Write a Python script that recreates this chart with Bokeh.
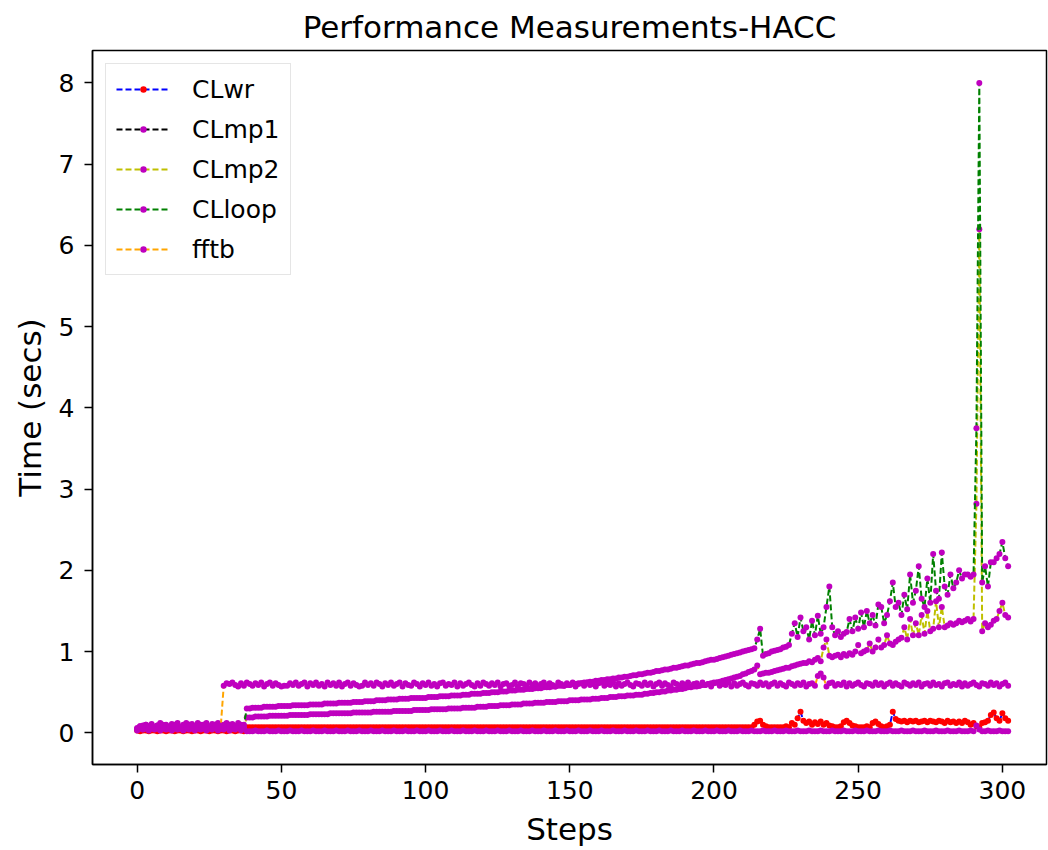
from bokeh.plotting import figure
from bokeh.models import Range1d, Legend, LegendItem, FixedTicker
from bokeh.embed import file_html
from bokeh.resources import INLINE

steps = list(range(303))

series_names = ["CLwr", "CLmp1", "CLmp2", "CLloop", "fftb"]
title_text = "Performance Measurements-HACC"

clwr = [
    0.03, 0.02, 0.03, 0.03, 0.02, 0.03, 0.03, 0.02, 0.03, 0.03,
    0.02, 0.03, 0.03, 0.02, 0.03, 0.03, 0.02, 0.03, 0.03, 0.02,
    0.03, 0.03, 0.02, 0.03, 0.03, 0.02, 0.03, 0.03, 0.02, 0.03,
    0.03, 0.02, 0.03, 0.03, 0.02, 0.03, 0.03, 0.02, 0.07, 0.07,
    0.07, 0.07, 0.07, 0.07, 0.07, 0.07, 0.07, 0.07, 0.07, 0.07,
    0.07, 0.07, 0.07, 0.07, 0.07, 0.07, 0.07, 0.07, 0.07, 0.07,
    0.07, 0.07, 0.07, 0.07, 0.07, 0.07, 0.07, 0.07, 0.07, 0.07,
    0.07, 0.07, 0.07, 0.07, 0.07, 0.07, 0.07, 0.07, 0.07, 0.07,
    0.07, 0.07, 0.07, 0.07, 0.07, 0.07, 0.07, 0.07, 0.07, 0.07,
    0.07, 0.07, 0.07, 0.07, 0.07, 0.07, 0.07, 0.07, 0.07, 0.07,
    0.07, 0.07, 0.07, 0.07, 0.07, 0.07, 0.07, 0.07, 0.07, 0.07,
    0.07, 0.07, 0.07, 0.07, 0.07, 0.07, 0.07, 0.07, 0.07, 0.07,
    0.07, 0.07, 0.07, 0.07, 0.07, 0.07, 0.07, 0.07, 0.07, 0.07,
    0.07, 0.07, 0.07, 0.07, 0.07, 0.07, 0.07, 0.07, 0.07, 0.07,
    0.07, 0.07, 0.07, 0.07, 0.07, 0.07, 0.07, 0.07, 0.07, 0.07,
    0.07, 0.07, 0.07, 0.07, 0.07, 0.07, 0.07, 0.07, 0.07, 0.07,
    0.07, 0.07, 0.07, 0.07, 0.07, 0.07, 0.07, 0.07, 0.07, 0.07,
    0.07, 0.07, 0.07, 0.07, 0.07, 0.07, 0.07, 0.07, 0.07, 0.07,
    0.07, 0.07, 0.07, 0.07, 0.07, 0.07, 0.07, 0.07, 0.07, 0.07,
    0.07, 0.07, 0.07, 0.07, 0.07, 0.07, 0.07, 0.07, 0.07, 0.07,
    0.07, 0.07, 0.07, 0.07, 0.07, 0.07, 0.07, 0.07, 0.07, 0.07,
    0.07, 0.07, 0.07, 0.07, 0.10, 0.14, 0.15, 0.10, 0.08, 0.07,
    0.07, 0.07, 0.07, 0.07, 0.07, 0.08, 0.07, 0.12, 0.10, 0.18,
    0.26, 0.15, 0.12, 0.14, 0.10, 0.13, 0.11, 0.14, 0.10, 0.12,
    0.09, 0.08, 0.07, 0.07, 0.08, 0.13, 0.15, 0.12, 0.09, 0.08,
    0.07, 0.07, 0.07, 0.08, 0.07, 0.12, 0.14, 0.11, 0.08, 0.07,
    0.08, 0.10, 0.26, 0.17, 0.15, 0.14, 0.15, 0.13, 0.15, 0.14,
    0.15, 0.13, 0.14, 0.15, 0.13, 0.15, 0.14, 0.13, 0.15, 0.14,
    0.12, 0.15, 0.13, 0.14, 0.12, 0.14, 0.12, 0.15, 0.13, 0.10,
    0.12, 0.08, 0.07, 0.12, 0.13, 0.15, 0.22, 0.25, 0.18, 0.15,
    0.24, 0.18, 0.15,
]

clmp1 = [
    0.03, 0.05, 0.04, 0.06, 0.03, 0.05, 0.04, 0.06, 0.03, 0.05,
    0.04, 0.06, 0.03, 0.05, 0.04, 0.06, 0.03, 0.05, 0.04, 0.06,
    0.03, 0.05, 0.04, 0.06, 0.03, 0.05, 0.04, 0.06, 0.03, 0.05,
    0.04, 0.06, 0.03, 0.05, 0.04, 0.06, 0.03, 0.05, 0.02, 0.02,
    0.02, 0.03, 0.02, 0.02, 0.02, 0.03, 0.02, 0.02, 0.02, 0.03,
    0.02, 0.02, 0.02, 0.03, 0.02, 0.02, 0.02, 0.03, 0.02, 0.02,
    0.02, 0.03, 0.02, 0.02, 0.02, 0.03, 0.02, 0.02, 0.02, 0.03,
    0.02, 0.02, 0.02, 0.03, 0.02, 0.02, 0.02, 0.03, 0.02, 0.02,
    0.02, 0.03, 0.02, 0.02, 0.02, 0.03, 0.02, 0.02, 0.02, 0.03,
    0.02, 0.02, 0.02, 0.03, 0.02, 0.02, 0.02, 0.03, 0.02, 0.02,
    0.02, 0.03, 0.02, 0.02, 0.02, 0.03, 0.02, 0.02, 0.02, 0.03,
    0.02, 0.02, 0.02, 0.03, 0.02, 0.02, 0.02, 0.03, 0.02, 0.02,
    0.02, 0.03, 0.02, 0.02, 0.02, 0.03, 0.02, 0.02, 0.02, 0.03,
    0.02, 0.02, 0.02, 0.03, 0.02, 0.02, 0.02, 0.03, 0.02, 0.02,
    0.02, 0.03, 0.02, 0.02, 0.02, 0.03, 0.02, 0.02, 0.02, 0.03,
    0.02, 0.02, 0.02, 0.03, 0.02, 0.02, 0.02, 0.03, 0.02, 0.02,
    0.02, 0.03, 0.02, 0.02, 0.02, 0.03, 0.02, 0.02, 0.02, 0.03,
    0.02, 0.02, 0.02, 0.03, 0.02, 0.02, 0.02, 0.03, 0.02, 0.02,
    0.02, 0.03, 0.02, 0.02, 0.02, 0.03, 0.02, 0.02, 0.02, 0.03,
    0.02, 0.02, 0.02, 0.03, 0.02, 0.02, 0.02, 0.03, 0.02, 0.02,
    0.02, 0.03, 0.02, 0.02, 0.02, 0.03, 0.02, 0.02, 0.02, 0.03,
    0.02, 0.02, 0.02, 0.03, 0.02, 0.02, 0.02, 0.03, 0.02, 0.02,
    0.02, 0.03, 0.02, 0.02, 0.02, 0.03, 0.02, 0.02, 0.02, 0.03,
    0.02, 0.02, 0.02, 0.03, 0.02, 0.02, 0.02, 0.03, 0.02, 0.02,
    0.02, 0.03, 0.02, 0.02, 0.02, 0.03, 0.02, 0.02, 0.02, 0.03,
    0.02, 0.02, 0.02, 0.03, 0.02, 0.02, 0.02, 0.03, 0.02, 0.02,
    0.02, 0.03, 0.02, 0.02, 0.02, 0.03, 0.02, 0.02, 0.02, 0.03,
    0.02, 0.02, 0.02, 0.03, 0.02, 0.02, 0.02, 0.03, 0.02, 0.02,
    0.02, 0.03, 0.02, 0.02, 0.02, 0.03, 0.02, 0.02, 0.02, 0.03,
    0.02, 0.09, 0.04, 0.02, 0.02, 0.03, 0.02, 0.02, 0.02, 0.03,
    0.02, 0.02, 0.02,
]

clmp2 = [
    0.05, 0.07, 0.09, 0.05, 0.08, 0.10, 0.06, 0.09, 0.05, 0.10,
    0.07, 0.05, 0.09, 0.06, 0.10, 0.05, 0.08, 0.06, 0.10, 0.07,
    0.05, 0.09, 0.06, 0.10, 0.05, 0.08, 0.06, 0.10, 0.07, 0.05,
    0.09, 0.06, 0.10, 0.05, 0.08, 0.06, 0.10, 0.07, 0.19, 0.19,
    0.19, 0.20, 0.20, 0.20, 0.20, 0.20, 0.21, 0.21, 0.21, 0.21,
    0.21, 0.21, 0.21, 0.22, 0.22, 0.22, 0.22, 0.22, 0.22, 0.22,
    0.23, 0.23, 0.23, 0.23, 0.23, 0.23, 0.23, 0.24, 0.24, 0.24,
    0.24, 0.24, 0.24, 0.24, 0.24, 0.25, 0.25, 0.25, 0.25, 0.25,
    0.25, 0.25, 0.26, 0.26, 0.26, 0.26, 0.26, 0.26, 0.26, 0.27,
    0.27, 0.27, 0.27, 0.27, 0.27, 0.27, 0.28, 0.28, 0.28, 0.28,
    0.28, 0.28, 0.29, 0.29, 0.29, 0.29, 0.29, 0.29, 0.30, 0.30,
    0.30, 0.30, 0.30, 0.31, 0.31, 0.31, 0.31, 0.31, 0.32, 0.32,
    0.32, 0.32, 0.33, 0.33, 0.33, 0.33, 0.34, 0.34, 0.34, 0.34,
    0.35, 0.35, 0.35, 0.35, 0.36, 0.36, 0.36, 0.36, 0.37, 0.37,
    0.37, 0.37, 0.38, 0.38, 0.38, 0.38, 0.39, 0.39, 0.39, 0.39,
    0.40, 0.40, 0.40, 0.40, 0.41, 0.41, 0.41, 0.41, 0.42, 0.42,
    0.42, 0.43, 0.43, 0.43, 0.44, 0.44, 0.44, 0.45, 0.45, 0.45,
    0.46, 0.46, 0.46, 0.47, 0.47, 0.47, 0.48, 0.48, 0.49, 0.49,
    0.50, 0.50, 0.51, 0.51, 0.52, 0.52, 0.53, 0.53, 0.54, 0.54,
    0.55, 0.56, 0.56, 0.57, 0.57, 0.58, 0.59, 0.59, 0.60, 0.61,
    0.62, 0.62, 0.63, 0.64, 0.65, 0.66, 0.67, 0.68, 0.69, 0.70,
    0.72, 0.73, 0.75, 0.76, 0.78, 0.83, 0.72, 0.73, 0.74, 0.74,
    0.75, 0.76, 0.77, 0.78, 0.79, 0.80, 0.80, 0.82, 0.83, 0.84,
    0.85, 0.86, 0.86, 0.88, 0.87, 0.90, 0.92, 0.88, 1.05, 1.15,
    0.95, 0.93, 0.95, 0.96, 0.93, 0.97, 0.95, 0.98, 0.96, 1.00,
    1.08, 0.98, 1.00, 1.02, 1.10, 1.00, 1.05, 1.15, 1.05, 1.08,
    1.20, 1.10, 1.08, 1.12, 1.15, 1.17, 1.30, 1.15, 1.40, 1.20,
    1.35, 1.20, 1.45, 1.22, 1.50, 1.25, 1.28, 1.62, 1.30, 1.55,
    1.30, 1.32, 1.35, 1.33, 1.35, 1.38, 1.36, 1.38, 1.40, 1.37,
    1.40, 2.82, 6.20, 1.25, 1.35, 1.30, 1.33, 1.38, 1.40, 1.50,
    1.60, 1.45, 1.42,
]

clloop = [
    0.06, 0.08, 0.06, 0.10, 0.07, 0.11, 0.06, 0.09, 0.12, 0.07,
    0.10, 0.06, 0.11, 0.08, 0.12, 0.07, 0.10, 0.12, 0.06, 0.11,
    0.08, 0.12, 0.07, 0.10, 0.12, 0.07, 0.11, 0.08, 0.12, 0.07,
    0.10, 0.12, 0.07, 0.11, 0.08, 0.12, 0.07, 0.10, 0.30, 0.30,
    0.31, 0.31, 0.31, 0.31, 0.32, 0.32, 0.32, 0.32, 0.32, 0.33,
    0.33, 0.33, 0.33, 0.33, 0.34, 0.34, 0.34, 0.34, 0.34, 0.34,
    0.35, 0.35, 0.35, 0.35, 0.35, 0.36, 0.36, 0.36, 0.36, 0.36,
    0.37, 0.37, 0.37, 0.37, 0.37, 0.38, 0.38, 0.38, 0.38, 0.39,
    0.39, 0.39, 0.39, 0.40, 0.40, 0.40, 0.40, 0.41, 0.41, 0.41,
    0.41, 0.42, 0.42, 0.42, 0.42, 0.43, 0.43, 0.43, 0.43, 0.43,
    0.43, 0.44, 0.44, 0.44, 0.44, 0.45, 0.45, 0.45, 0.45, 0.46,
    0.46, 0.46, 0.46, 0.47, 0.47, 0.47, 0.48, 0.48, 0.48, 0.48,
    0.49, 0.49, 0.49, 0.50, 0.50, 0.50, 0.51, 0.51, 0.51, 0.52,
    0.52, 0.52, 0.53, 0.53, 0.53, 0.54, 0.54, 0.54, 0.55, 0.55,
    0.55, 0.56, 0.56, 0.56, 0.57, 0.57, 0.58, 0.58, 0.58, 0.59,
    0.59, 0.60, 0.60, 0.61, 0.61, 0.62, 0.62, 0.63, 0.63, 0.64,
    0.64, 0.65, 0.65, 0.66, 0.66, 0.67, 0.67, 0.68, 0.68, 0.69,
    0.69, 0.70, 0.71, 0.71, 0.72, 0.72, 0.73, 0.74, 0.74, 0.75,
    0.76, 0.76, 0.77, 0.78, 0.78, 0.79, 0.80, 0.80, 0.81, 0.82,
    0.83, 0.83, 0.84, 0.85, 0.86, 0.86, 0.87, 0.88, 0.89, 0.90,
    0.90, 0.91, 0.92, 0.93, 0.94, 0.95, 0.96, 0.97, 0.98, 0.99,
    1.00, 1.01, 1.02, 1.03, 1.04, 1.15, 1.28, 0.95, 0.97, 0.98,
    1.00, 1.01, 1.02, 1.03, 1.05, 1.06, 1.08, 1.22, 1.35, 1.18,
    1.42, 1.25, 1.30, 1.15, 1.38, 1.20, 1.44, 1.22, 1.30, 1.55,
    1.80, 1.30, 1.20, 1.25, 1.18, 1.22, 1.24, 1.40, 1.25, 1.42,
    1.28, 1.48, 1.30, 1.50, 1.35, 1.45, 1.32, 1.58, 1.55, 1.35,
    1.45, 1.62, 1.85, 1.55, 1.60, 1.45, 1.70, 1.52, 1.95, 1.60,
    1.75, 2.05, 1.65, 1.55, 1.90, 1.60, 2.20, 1.75, 1.65, 2.22,
    1.80, 1.70, 1.95, 1.78, 1.85, 2.00, 1.90, 1.95, 1.95, 1.92,
    1.95, 3.75, 8.00, 1.85, 2.05, 1.80, 2.10, 2.10, 2.15, 2.20,
    2.35, 2.15, 2.05,
]

fftb = [
    0.05, 0.08, 0.06, 0.10, 0.05, 0.09, 0.07, 0.05, 0.10, 0.06,
    0.09, 0.05, 0.08, 0.10, 0.06, 0.05, 0.09, 0.07, 0.10, 0.05,
    0.08, 0.06, 0.10, 0.05, 0.09, 0.07, 0.05, 0.10, 0.06, 0.09,
    0.58, 0.61, 0.60, 0.62, 0.59, 0.57, 0.61, 0.58, 0.62, 0.60,
    0.58, 0.61, 0.59, 0.62, 0.57, 0.60, 0.62, 0.58, 0.61, 0.59,
    0.57, 0.58, 0.58, 0.61, 0.59, 0.62, 0.58, 0.60, 0.62, 0.57,
    0.61, 0.59, 0.62, 0.58, 0.60, 0.57, 0.62, 0.59, 0.61, 0.58,
    0.62, 0.57, 0.60, 0.62, 0.58, 0.61, 0.59, 0.57, 0.58, 0.62,
    0.59, 0.61, 0.58, 0.62, 0.60, 0.57, 0.61, 0.59, 0.62, 0.58,
    0.60, 0.62, 0.57, 0.61, 0.59, 0.58, 0.62, 0.60, 0.57, 0.61,
    0.59, 0.62, 0.58, 0.60, 0.57, 0.61, 0.62, 0.58, 0.60, 0.59,
    0.62, 0.57, 0.61, 0.58, 0.60, 0.62, 0.59, 0.57, 0.61, 0.58,
    0.62, 0.60, 0.58, 0.61, 0.59, 0.62, 0.57, 0.60, 0.61, 0.58,
    0.59, 0.62, 0.57, 0.61, 0.60, 0.58, 0.62, 0.59, 0.61, 0.57,
    0.60, 0.62, 0.58, 0.61, 0.59, 0.57, 0.62, 0.60, 0.58, 0.61,
    0.59, 0.62, 0.57, 0.60, 0.61, 0.58, 0.62, 0.59, 0.60, 0.57,
    0.61, 0.62, 0.58, 0.60, 0.59, 0.62, 0.57, 0.61, 0.58, 0.60,
    0.62, 0.59, 0.57, 0.61, 0.60, 0.58, 0.62, 0.59, 0.61, 0.57,
    0.60, 0.62, 0.58, 0.61, 0.59, 0.57, 0.62, 0.60, 0.58, 0.61,
    0.59, 0.62, 0.57, 0.60, 0.61, 0.58, 0.62, 0.59, 0.60, 0.57,
    0.61, 0.62, 0.58, 0.60, 0.59, 0.62, 0.57, 0.61, 0.58, 0.60,
    0.62, 0.59, 0.57, 0.61, 0.60, 0.58, 0.62, 0.59, 0.61, 0.57,
    0.60, 0.62, 0.58, 0.61, 0.59, 0.57, 0.62, 0.60, 0.58, 0.61,
    0.59, 0.62, 0.57, 0.60, 0.61, 0.58, 0.70, 0.73, 0.68, 0.57,
    0.61, 0.62, 0.58, 0.60, 0.59, 0.62, 0.57, 0.61, 0.58, 0.60,
    0.62, 0.59, 0.57, 0.61, 0.60, 0.58, 0.62, 0.59, 0.61, 0.57,
    0.60, 0.62, 0.58, 0.61, 0.59, 0.57, 0.62, 0.60, 0.58, 0.61,
    0.59, 0.62, 0.57, 0.60, 0.61, 0.58, 0.62, 0.59, 0.60, 0.57,
    0.61, 0.62, 0.58, 0.60, 0.59, 0.62, 0.57, 0.61, 0.58, 0.60,
    0.62, 0.59, 0.57, 0.61, 0.60, 0.58, 0.62, 0.59, 0.61, 0.57,
    0.60, 0.62, 0.58,
]

x_ticks = [0, 50, 100, 150, 200, 250, 300]
y_ticks = [0, 1, 2, 3, 4, 5, 6, 7, 8]

line_colors = ["#0000ff", "#000000", "#bfbf00", "#008000", "#ffa500"]
marker_colors = ["#ff0000", "#bf00bf", "#bf00bf", "#bf00bf", "#bf00bf"]
all_values = [clwr, clmp1, clmp2, clloop, fftb]

for v in all_values:
    assert len(v) == len(steps), len(v)

FONT = "DejaVu Sans"

p = figure(
    width=1048, height=850,
    x_range=Range1d(-15.5, 315.3), y_range=Range1d(-0.39, 8.40),
    output_backend="svg", toolbar_location=None,
    title=title_text,
    min_border_left=92, min_border_right=2, min_border_top=50, min_border_bottom=86,
)
p.background_fill_color = "white"
p.border_fill_color = "white"
p.outline_line_color = "#000000"
p.outline_line_width = 1.5
p.grid.visible = False

p.title.text_font = FONT
p.title.text_font_size = "31px"
p.title.text_font_style = "normal"
p.title.text_color = "#000000"
p.title.align = "center"
p.title.text_line_height = 0.6
p.title.standoff = 12

p.xaxis.ticker = FixedTicker(ticks=x_ticks)
p.yaxis.ticker = FixedTicker(ticks=y_ticks)
p.xaxis.axis_label = "Steps"
p.yaxis.axis_label = "Time (secs)"
for ax in (p.xaxis, p.yaxis):
    ax.axis_label_text_font = FONT
    ax.axis_label_text_font_size = "31px"
    ax.axis_label_text_font_style = "normal"
    ax.axis_label_text_color = "#000000"
    ax.major_label_text_font = FONT
    ax.major_label_text_font_size = "25px"
    ax.major_label_text_color = "#000000"
    ax.major_tick_in = 0
    ax.major_tick_out = 8
    ax.major_tick_line_width = 1.5
    ax.minor_tick_line_color = None
    ax.axis_line_width = 1.5
    ax.axis_line_color = "#000000"
p.xaxis.major_label_standoff = 8
p.xaxis.axis_label_standoff = 9
p.yaxis.major_label_standoff = 10
p.yaxis.axis_label_standoff = 8

items = []
for name, vals, lc, mc in zip(series_names, all_values, line_colors, marker_colors):
    rl = p.line(steps, vals, line_color=lc, line_dash="6 3", line_width=2)
    rs = p.scatter(steps, vals, size=6, fill_color=mc, line_color=mc, line_width=0)
    items.append(LegendItem(label=name, renderers=[rl, rs]))

legend = Legend(
    items=items, location="top_left",
    label_text_font=FONT, label_text_font_size="25px", label_text_color="#000000",
    glyph_width=54, glyph_height=16, label_height=30, label_standoff=22,
    spacing=10, padding=10, margin=13,
    border_line_color="#cccccc", border_line_width=1.5,
    background_fill_color="white", background_fill_alpha=0.8,
)
p.add_layout(legend, "center")

open("out.html", "w").write(file_html(p, INLINE))
